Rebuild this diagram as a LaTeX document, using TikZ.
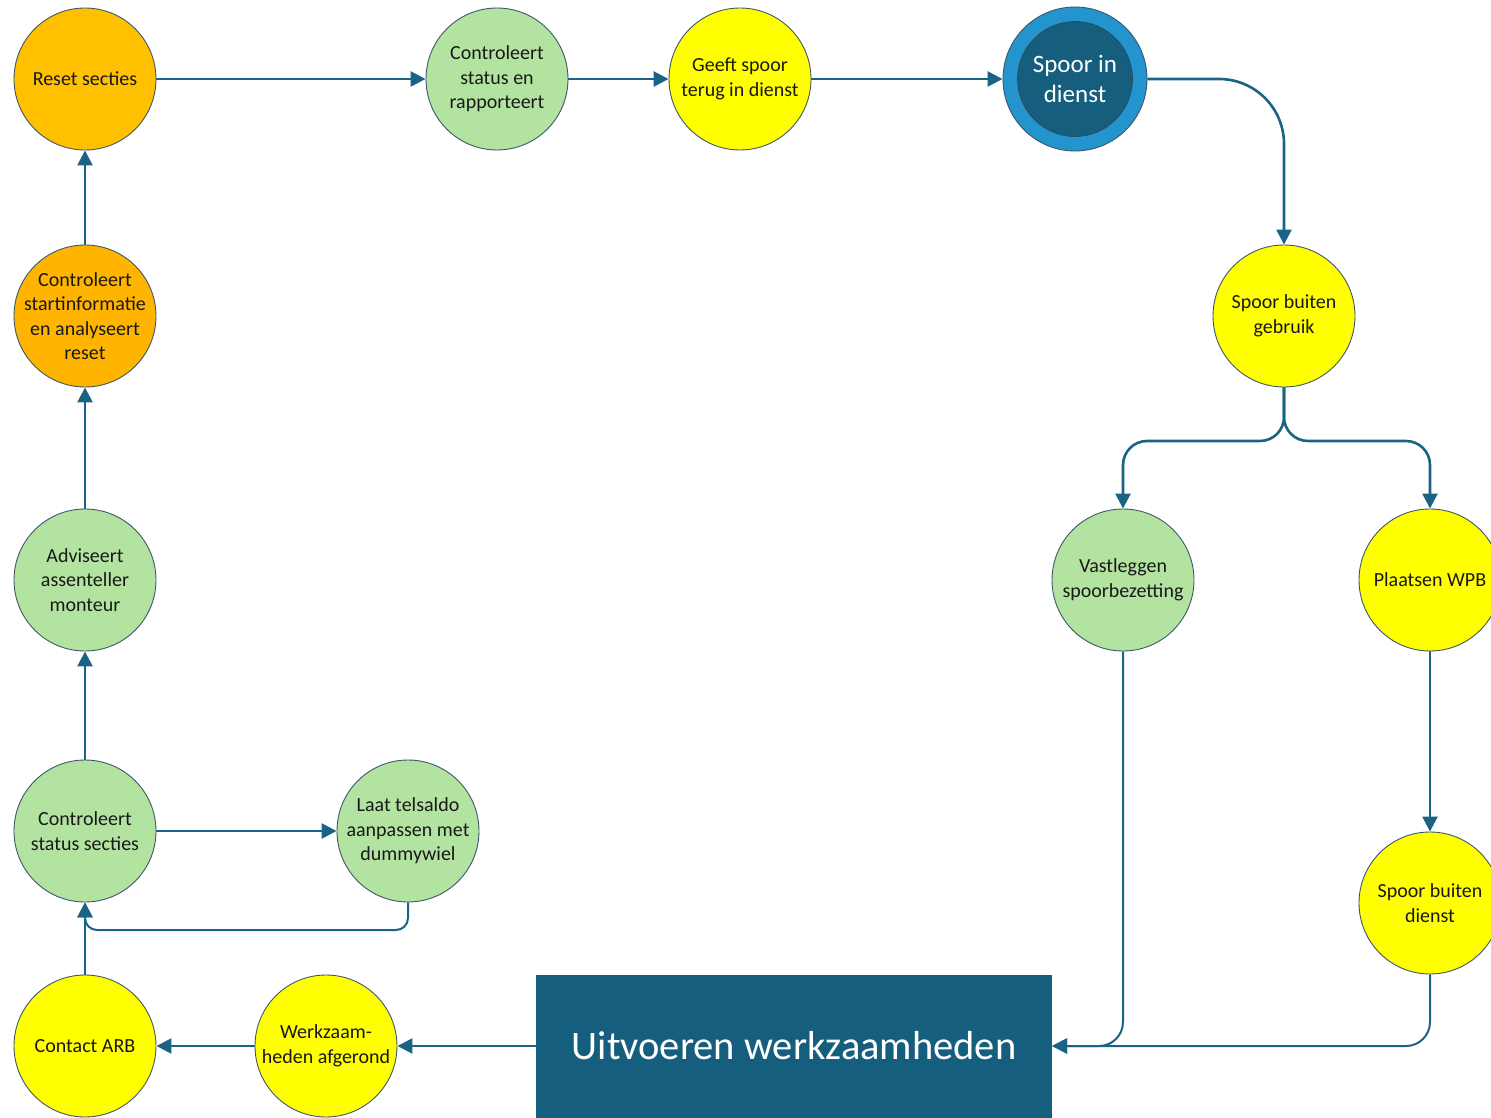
\documentclass[tikz,border=0pt]{standalone}
\usepackage{fontspec}
\setmainfont{Carlito}
\usetikzlibrary{arrows.meta}
\definecolor{lineblue}{HTML}{1A6384}
\definecolor{rectblue}{HTML}{165E7E}
\definecolor{ringblue}{HTML}{2394CE}
\definecolor{cgreen}{HTML}{B3E3A0}
\definecolor{corange}{HTML}{FFC000}
\definecolor{corange2}{HTML}{FFB400}
\definecolor{cyellow}{HTML}{FFFF00}
\definecolor{cborder}{HTML}{3E5668}
\tikzset{
  stepnode/.style={circle, draw=cborder, line width=0.9pt, minimum size=142pt, inner sep=-12pt,
    align=center, font=\fontsize{20}{24.5}\selectfont, text=black!90},
  greennode/.style={stepnode, fill=cgreen},
  yellownode/.style={stepnode, fill=cyellow},
  orangenode/.style={stepnode, fill=corange},
  conn/.style={draw=lineblue, line width=2.6pt, -{Triangle[length=15pt,width=15pt]}},
  thinconn/.style={draw=lineblue, line width=2pt, -{Triangle[length=15pt,width=15pt]}},
}
\begin{document}
\begin{tikzpicture}[x=1pt,y=-1pt]
\useasboundingbox (0,0) rectangle (1491,1118);
\clip (0,0) rectangle (1491,1118);
% nodes
\node[orangenode] (reset) at (85,79) {Reset secties};
\node[greennode] (csr) at (497,79) {Controleert\\status en\\rapporteert};
\node[yellownode] (geeft) at (740,79) {Geeft spoor\\terug in dienst};
\node[circle, draw=cborder, line width=0.9pt, fill=ringblue, minimum size=144pt, inner sep=0pt] (sid) at (1075,79) {};
\node[circle, draw=cborder!80!black, line width=0.6pt, fill=rectblue, minimum size=115pt, inner sep=-12pt,
  align=center, text=white, font=\fontsize{25}{30}\selectfont] (sidin) at (1075,79) {Spoor in\\dienst};
\node[yellownode] (sbg) at (1284,316) {Spoor buiten\\gebruik};
\node[orangenode, fill=corange2] (start) at (85,316) {Controleert\\startinformatie\\en analyseert\\reset};
\node[greennode] (adv) at (85,580) {Adviseert\\assenteller\\monteur};
\node[greennode] (css) at (85,831) {Controleert\\status secties};
\node[greennode] (laat) at (408,831) {Laat telsaldo\\aanpassen met\\dummywiel};
\node[yellownode] (arb) at (85,1046) {Contact ARB};
\node[yellownode] (werk) at (326,1046) {Werkzaam-\\heden afgerond};
\node[greennode] (vast) at (1123,580) {Vastleggen\\spoorbezetting};
\node[yellownode] (wpb) at (1430,580) {Plaatsen WPB};
\node[yellownode] (sbd) at (1430,903) {Spoor buiten\\dienst};
\node[fill=rectblue, minimum width=516pt, minimum height=160pt, inner sep=0pt, anchor=north west] (uitbox) at (536,975) {};
\node[text=white, font=\fontsize{40.5}{44}\selectfont, inner sep=0pt] (uittext) at (794,1046) {Uitvoeren werkzaamheden};
\coordinate (uiteast) at (1052,1046);
\coordinate (uitwest) at (536,1046);
\coordinate (splitL) at (1123,441);
\coordinate (splitR) at (1430,441);
\coordinate (loopR) at (408,930);
% connectors
\draw[conn] (reset) -- (csr);
\draw[conn] (csr) -- (geeft);
\draw[conn] (geeft) -- (sid);
\draw[conn, rounded corners=65pt] (sid.east) -| (sbg.north);
\draw[conn, rounded corners=24pt] (sbg.south) |- (splitL) -- (vast.north);
\draw[conn, rounded corners=24pt] (sbg.south) |- (splitR) -- (wpb.north);
\draw[conn] (wpb) -- (sbd);
\draw[thinconn, rounded corners=24pt] (vast.south) |- (uiteast);
\draw[thinconn, rounded corners=24pt] (sbd.south) |- (uiteast);
\draw[conn] (uitwest) -- (werk);
\draw[conn] (werk) -- (arb);
\draw[conn] (arb) -- (css);
\draw[conn] (css) -- (laat);
\draw[thinconn, rounded corners=12pt] (laat.south) -- (loopR) -| (css.south);
\draw[conn] (css) -- (adv);
\draw[conn] (adv) -- (start);
\draw[conn] (start) -- (reset);
\end{tikzpicture}
\end{document}
